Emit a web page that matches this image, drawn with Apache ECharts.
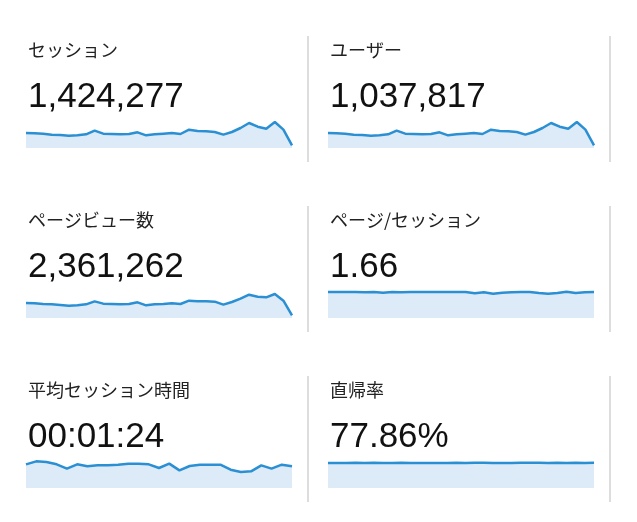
<!DOCTYPE html><html><head><meta charset="utf-8">
<script src="https://cdn.jsdelivr.net/npm/echarts@6/dist/echarts.min.js"></script>
<style>html,body{margin:0;background:#fff}#c{width:637px;height:522px}</style></head><body><div id="c"></div><script>
const titles=["セッション","ユーザー","ページビュー数","ページ/セッション","平均セッション時間","直帰率"];
const values=["1,424,277","1,037,817","2,361,262","1.66","00:01:24","77.86%"];
const sessions=[45,44,43,40,39,37,38,41,52,43,42,41,42,47,38,41,43,45,42,55,51,50,48,40,48,60,75,64,58,78,55,8];
const users=[45,44,43,40,39,37,38,41,52,43,42,41,42,47,38,41,43,45,42,55,51,50,48,40,48,60,75,64,58,78,55,8];
const pageviews=[45,44,42,41,39,37,38,41,50,43,42,41,42,47,38,41,42,44,42,52,50,50,49,40,48,58,70,64,62,72,52,8];
const pps=[78,78,78,78,77,78,76,78,77,78,78,78,78,78,78,78,74,77,73,76,77,78,78,75,73,75,79,75,77,78];
const duration=[71,80,78,71,58,71,65,68,68,70,73,73,71,60,73,53,66,70,70,70,55,48,50,68,58,70,65];
const bounce=[75,75,75,76,75,76,75,75,76,75,75,75,75,75,76,75,76,76,75,75,75,76,76,76,75,76,75,76,75,76];
const series=[sessions,users,pageviews,pps,duration,bounce];
const cols=[26,328], rows=[108,278,448];
const chart=echarts.init(document.getElementById('c'));
const grid=[],xAxis=[],yAxis=[],ser=[],title=[],graphic=[];
series.forEach((d,i)=>{
  const cx=cols[i%2], ry=rows[Math.floor(i/2)];
  grid.push({left:cx,top:ry,width:266,height:40});
  xAxis.push({type:'category',gridIndex:i,data:d.map((_,k)=>k),boundaryGap:false,show:false});
  yAxis.push({type:'value',gridIndex:i,min:0,max:120,show:false});
  ser.push({type:'line',xAxisIndex:i,yAxisIndex:i,data:d,symbol:'none',smooth:false,
    lineStyle:{color:'#2b8fd3',width:2.5},areaStyle:{color:'#ddebf8',opacity:1}});
  title.push({text:titles[i],left:cx-3,top:ry-72,textStyle:{fontFamily:'Noto Sans CJK JP',fontSize:18,fontWeight:'normal',color:'#222'}});
  title.push({text:values[i],left:cx-3,top:ry-33,textStyle:{fontFamily:'Liberation Sans',fontSize:35,fontWeight:'normal',color:'#111'}});
  graphic.push({type:'line',shape:{x1:cx+282,y1:ry-72,x2:cx+282,y2:ry+54},style:{stroke:'#bbb',lineWidth:1}});
});
chart.setOption({animation:false,grid,xAxis,yAxis,series:ser,title,graphic});
</script></body></html>
